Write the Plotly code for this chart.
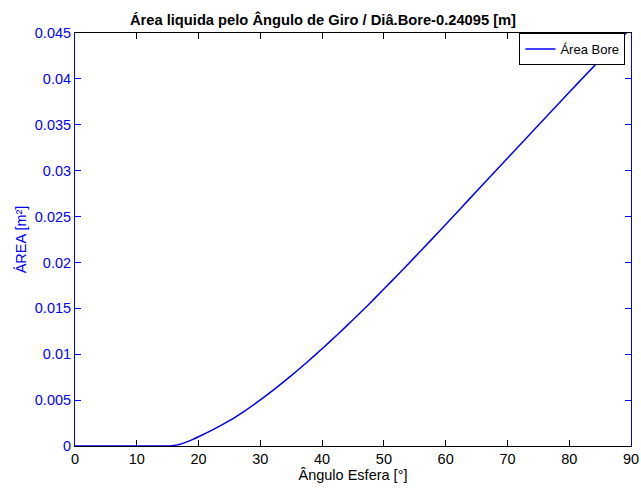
import plotly.graph_objects as go

# Sphere rotation angle [deg] and net bore area [m^2]
angulo = [0, 5, 10, 15.3, 16, 17, 18, 19, 20, 22.5, 25, 27.5, 30, 32.5, 35,
          37.5, 40, 42.5, 45, 47.5, 50, 52.5, 55, 57.5, 60, 62.5, 65, 67.5,
          70, 72.5, 75, 77.5, 80, 82.5, 85, 87.5, 90]
area = [0, 0, 0, 0, 0.00006, 0.0002, 0.00042, 0.0007, 0.00101, 0.00184,
        0.00276, 0.00384, 0.00502, 0.00630, 0.00766, 0.00910, 0.01060,
        0.01215, 0.01375, 0.01540, 0.01710, 0.01883, 0.02058, 0.02235,
        0.02414, 0.02594, 0.02775, 0.02955, 0.03135, 0.03315, 0.03495,
        0.03675, 0.03854, 0.04032, 0.04208, 0.04382, 0.04553]

x_ticks = [0, 10, 20, 30, 40, 50, 60, 70, 80, 90]
x_tick_labels = ["0", "10", "20", "30", "40", "50", "60", "70", "80", "90"]
y_ticks = [0, 0.005, 0.01, 0.015, 0.02, 0.025, 0.03, 0.035, 0.04, 0.045]
y_tick_labels = ["0", "0.005", "0.01", "0.015", "0.02", "0.025", "0.03",
                 "0.035", "0.04", "0.045"]

FONT = "Liberation Sans, Arial, Helvetica, sans-serif"
BLUE = "#0000ff"

fig = go.Figure()
fig.add_trace(go.Scatter(
    x=angulo, y=area, mode="lines", name="Área Bore",
    line=dict(color=BLUE, width=1.5, shape="spline", smoothing=0.6),
))

fig.update_layout(
    width=641, height=491,
    margin=dict(l=75, r=10, t=33, b=45),
    paper_bgcolor="white", plot_bgcolor="white",
    font=dict(family=FONT, size=14, color="black"),
    title=dict(
        text="<b>Área liquida pelo Ângulo de Giro / Diâ.Bore-0.24095 [m]</b>",
        x=323 / 641, xanchor="center",
        y=1 - 20 / 491, yanchor="middle",
        font=dict(family=FONT, size=14.7, color="black"),
    ),
    showlegend=True,
    legend=dict(
        x=0.99, xanchor="right", y=1.0, yanchor="top",
        bgcolor="white", bordercolor="black", borderwidth=1,
        font=dict(family=FONT, size=13, color="black"),
        itemwidth=30, tracegroupgap=0,
    ),
)

fig.update_xaxes(
    range=[0, 90], tickvals=x_ticks, ticktext=x_tick_labels,
    automargin=False,
    showgrid=False, zeroline=False,
    showline=True, linecolor="black", linewidth=1, mirror="ticks",
    ticks="inside", ticklen=6, tickcolor="black",
    tickfont=dict(family=FONT, size=14.5, color="black"),
    title=dict(text="Ângulo Esfera [°]", standoff=2,
               font=dict(family=FONT, size=14.5, color="black")),
)
fig.update_yaxes(
    range=[0, 0.045], tickvals=y_ticks, ticktext=y_tick_labels,
    automargin=False,
    showgrid=False, zeroline=False,
    showline=True, linecolor=BLUE, linewidth=1, mirror="ticks",
    ticks="inside", ticklen=6, tickcolor=BLUE,
    tickfont=dict(family=FONT, size=14.5, color=BLUE),
    title=dict(text="ÁREA [m²]", standoff=4,
               font=dict(family=FONT, size=14.5, color=BLUE)),
)

fig.write_html("out.html")
